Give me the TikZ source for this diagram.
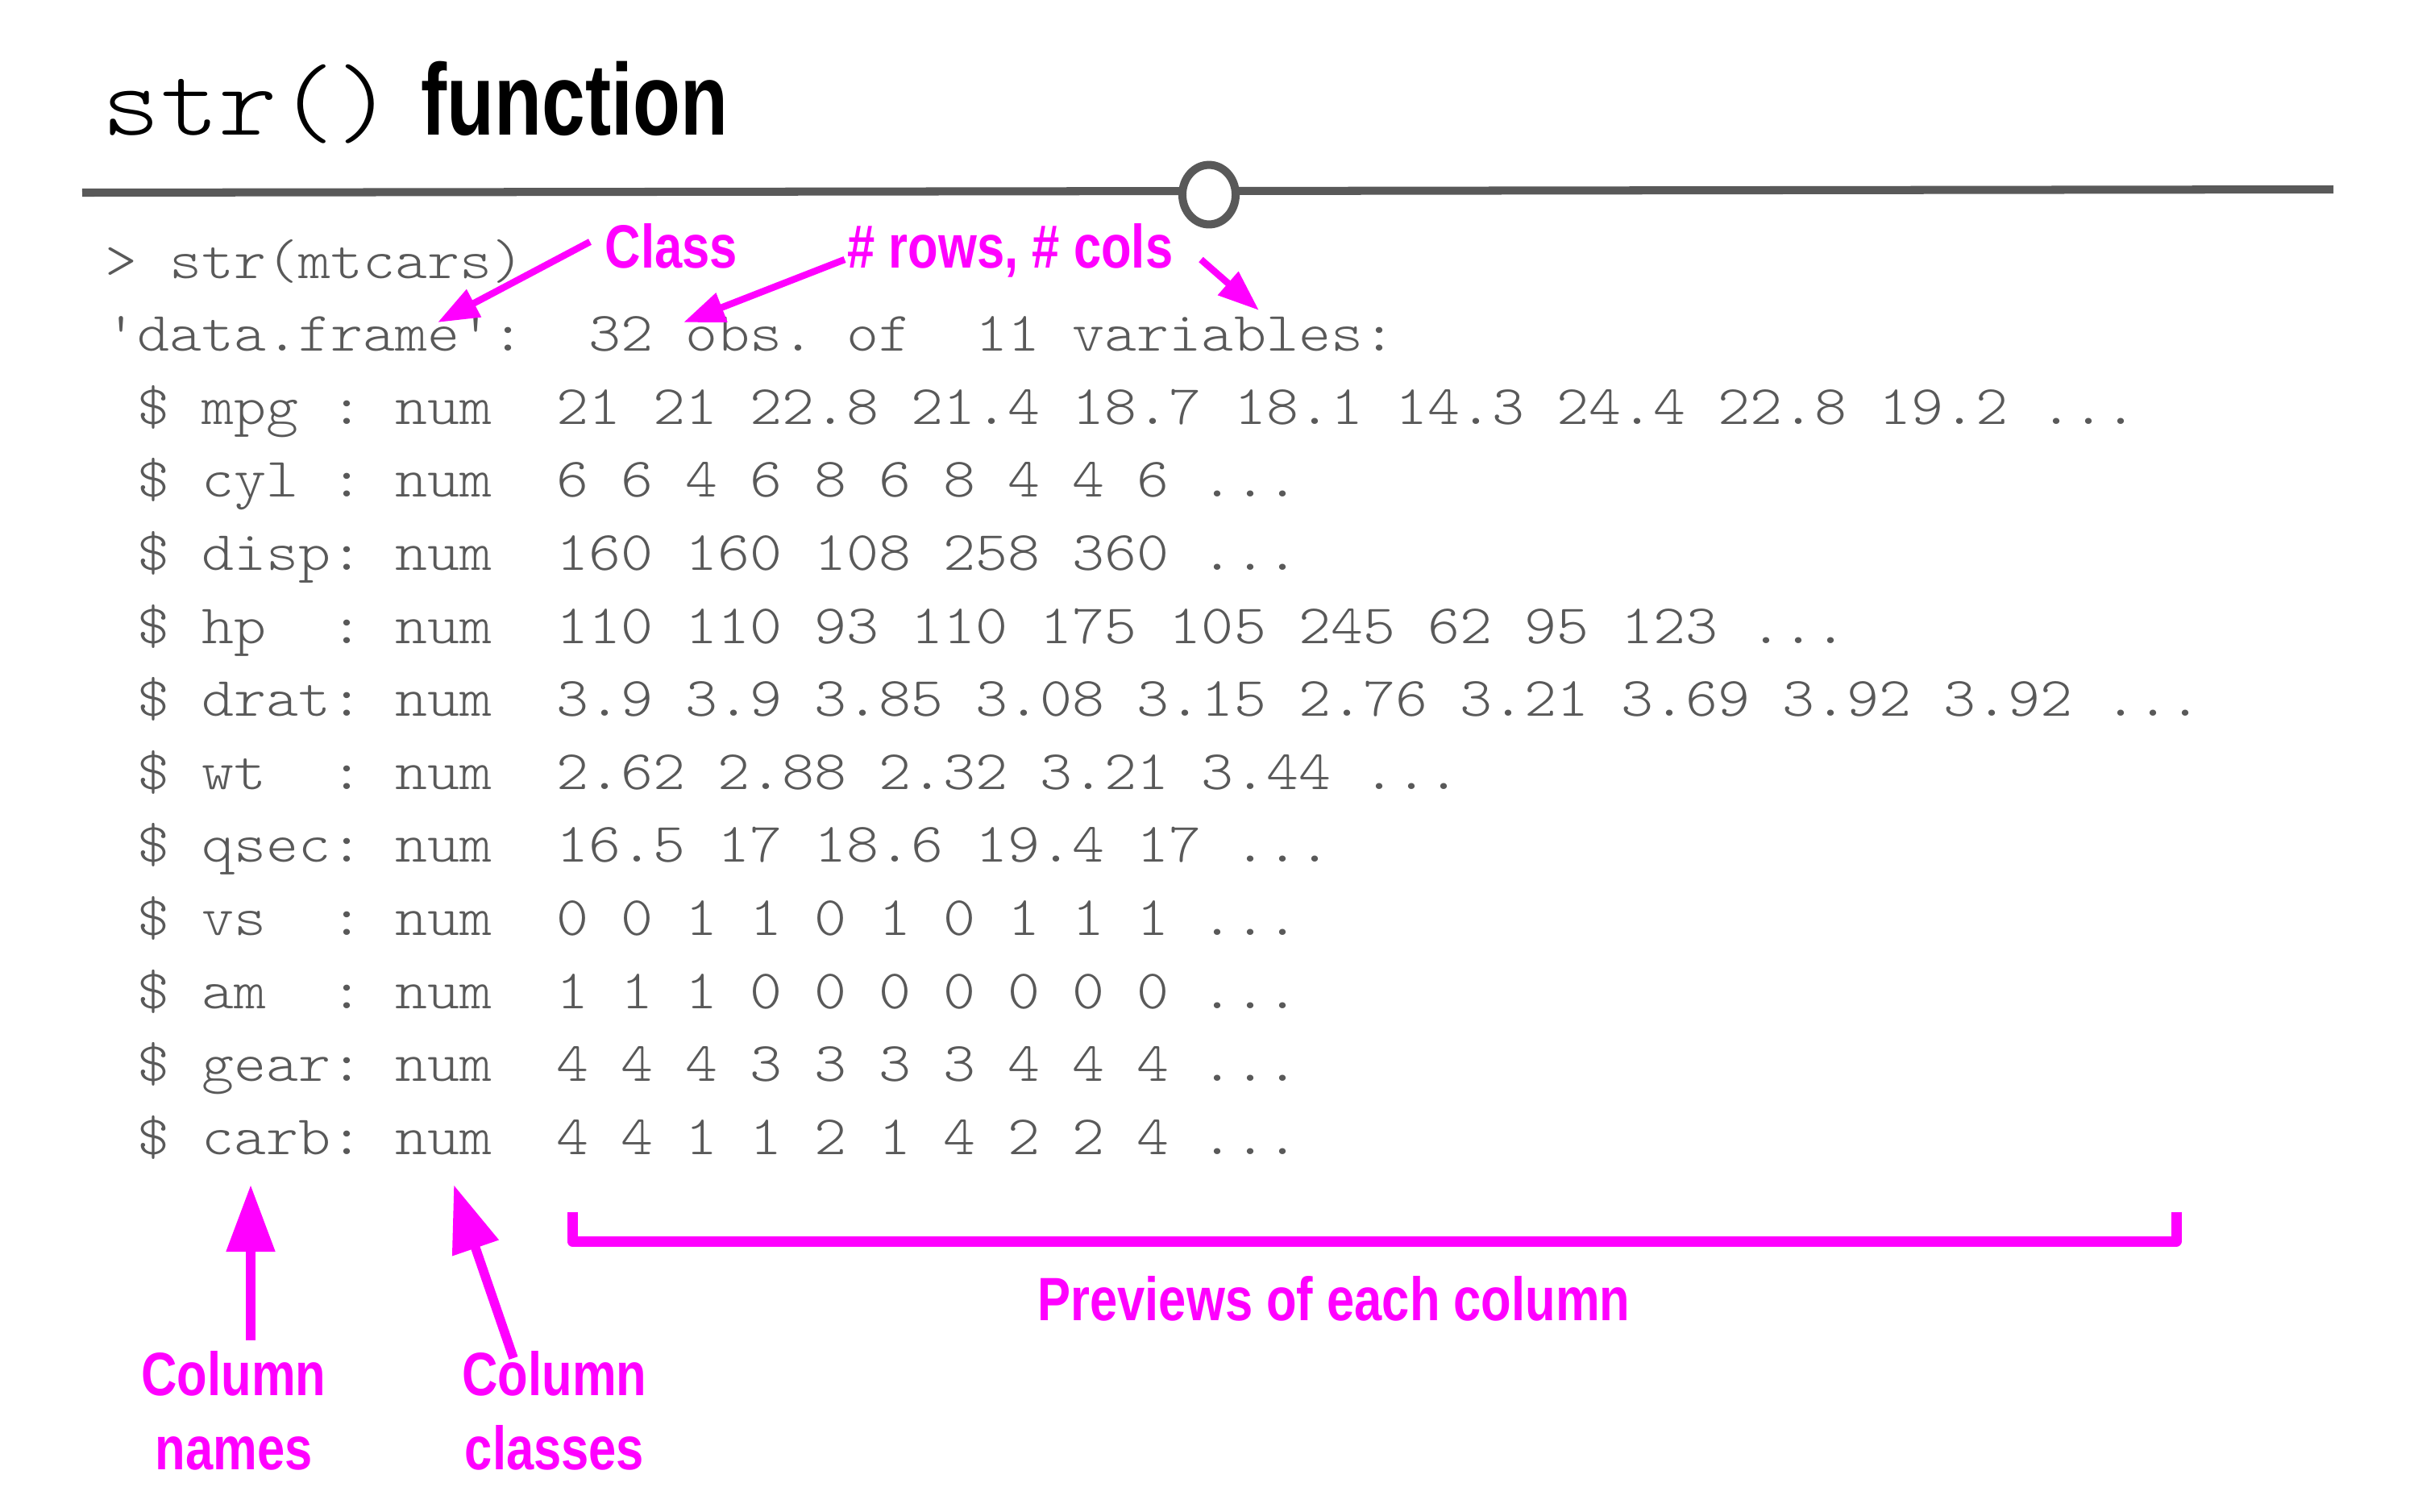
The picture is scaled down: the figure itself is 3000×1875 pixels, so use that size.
\documentclass[tikz,border=0pt]{standalone}
\usepackage{fontspec}
\usetikzlibrary{arrows.meta,shapes.geometric}
\definecolor{codegray}{HTML}{595959}
\definecolor{rulegray}{HTML}{595959}
\definecolor{mag}{HTML}{FF00FF}
\newfontfamily\annotfont[FakeStretch=0.81]{Liberation Sans}
\newfontfamily\titlesans[FakeStretch=0.765]{Liberation Sans}
\newfontfamily\codefam[FakeStretch=1.104]{lmmonolt10-regular.otf}
\newcommand\codefont{\codefam\fontsize{19.63pt}{24pt}\selectfont}
\newcommand\lblfont{\annotfont\bfseries\fontsize{21.6pt}{25.9pt}\selectfont}
\begin{document}
\begin{tikzpicture}[x=0.01cm,y=-0.01cm,
  code/.style={anchor=base west,inner sep=0pt,text=codegray,font=\codefont},
  lbl/.style={inner sep=0pt,text=mag,font=\lblfont},
  arr/.style={draw=mag,line width=2.4pt,-{Triangle[length=14.5pt,width=10.5pt]}},
  bigarr/.style={draw=mag,line width=3.3pt,-{Triangle[length=23.6pt,width=16.5pt]}},
  brace/.style={draw=mag,line width=3.7pt,line join=round}]
\useasboundingbox (0,0) rectangle (3000,1875);
% title
\node[anchor=base west,inner sep=0pt,font=\codefam\fontsize{35.6pt}{40pt}\selectfont] (tstr) at (126,167) {str()};
\node[anchor=base west,inner sep=0pt,font=\titlesans\bfseries\fontsize{35.85pt}{40pt}\selectfont] (tfun) at (522,167) {function};
% rule with knob
\coordinate (ruleL) at (102,239);
\coordinate (ruleR) at (2895,235);
\draw[rulegray,line width=2.85pt] (ruleL) -- (ruleR);
\node[ellipse,draw=rulegray,line width=2.85pt,fill=white,inner sep=0pt,minimum width=18.8pt,minimum height=21pt] (knob) at (1500,241.5) {};
% code lines
\node[code] (l0) at (130,345) {>~str(mtcars)};
\node[code] (l1) at (130,435.6) {'data.frame':~~32~obs.~of~~11~variables:};
\node[code] (l2) at (130,526.2) {~\$~mpg~:~num~~21~21~22.8~21.4~18.7~18.1~14.3~24.4~22.8~19.2~...};
\node[code] (l3) at (130,616.8) {~\$~cyl~:~num~~6~6~4~6~8~6~8~4~4~6~...};
\node[code] (l4) at (130,707.4) {~\$~disp:~num~~160~160~108~258~360~...};
\node[code] (l5) at (130,798) {~\$~hp~~:~num~~110~110~93~110~175~105~245~62~95~123~...};
\node[code] (l6) at (130,888.6) {~\$~drat:~num~~3.9~3.9~3.85~3.08~3.15~2.76~3.21~3.69~3.92~3.92~...};
\node[code] (l7) at (130,979.2) {~\$~wt~~:~num~~2.62~2.88~2.32~3.21~3.44~...};
\node[code] (l8) at (130,1069.8) {~\$~qsec:~num~~16.5~17~18.6~19.4~17~...};
\node[code] (l9) at (130,1160.4) {~\$~vs~~:~num~~0~0~1~1~0~1~0~1~1~1~...};
\node[code] (l10) at (130,1251) {~\$~am~~:~num~~1~1~1~0~0~0~0~0~0~0~...};
\node[code] (l11) at (130,1341.6) {~\$~gear:~num~~4~4~4~3~3~3~3~4~4~4~...};
\node[code] (l12) at (130,1432.2) {~\$~carb:~num~~4~4~1~1~2~1~4~2~2~4~...};
% annotation labels
\node[lbl,anchor=base west] (cls) at (750,332) {Class};
\node[lbl,anchor=base west] (rc) at (1051,332) {\#~rows,~\#~cols};
\node[lbl,anchor=base] (prev) at (1655,1638) {Previews of each column};
\node[lbl,anchor=base,align=center] (cnames) at (290,1823) {Column\\names};
\node[lbl,anchor=base,align=center] (cclass) at (688,1823) {Column\\classes};
% arrow ends
\coordinate (clsFrom) at (732,300);
\coordinate (clsTip) at (543,400);
\coordinate (rowFrom) at (1048,322);
\coordinate (rowTip) at (848,400);
\coordinate (colFrom) at (1490,322);
\coordinate (colTip) at (1562,385);
\coordinate (nmFrom) at (311,1663);
\coordinate (nmTip) at (311,1470);
\coordinate (ccFrom) at (637,1685);
\coordinate (ccTip) at (563,1470);
\draw[arr] (clsFrom) -- (clsTip);
\draw[arr] (rowFrom) -- (rowTip);
\draw[arr] (colFrom) -- (colTip);
\draw[bigarr] (nmFrom) -- (nmTip);
\draw[bigarr] (ccFrom) -- (ccTip);
% bracket
\coordinate (brTL) at (710,1504);
\coordinate (brBL) at (710,1540);
\coordinate (brBR) at (2700,1540);
\coordinate (brTR) at (2700,1504);
\draw[brace] (brTL) -- (brBL) -- (brBR) -- (brTR);
\end{tikzpicture}
\end{document}
